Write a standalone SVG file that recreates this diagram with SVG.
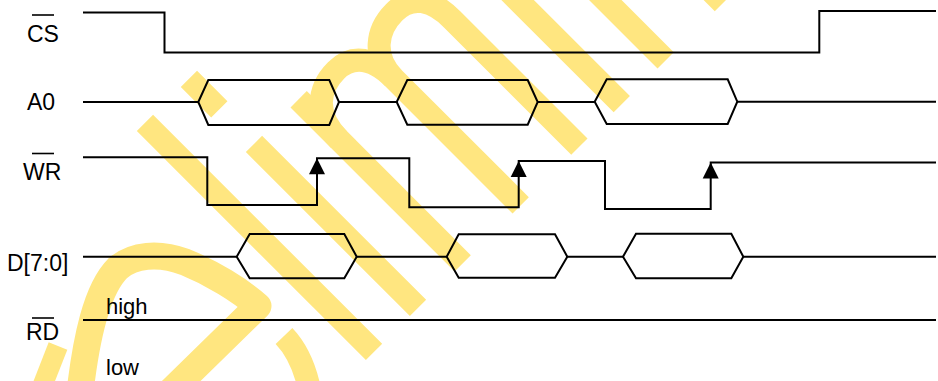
<svg xmlns="http://www.w3.org/2000/svg" xmlns:xlink="http://www.w3.org/1999/xlink" width="938" height="381" viewBox="0 0 938 381">
<style>
.wm{fill:none;stroke:#FFE680;stroke-width:23;stroke-linecap:butt;stroke-linejoin:round}
.sig{fill:none;stroke:#000;stroke-width:2;stroke-linejoin:miter}
.ov{stroke:#000;stroke-width:1.6}
.lbl{font-family:"Liberation Sans",Arial,sans-serif;font-size:23px;fill:#000}
.sm{font-size:22px}
</style>
<defs>
<path id="arrow" d="M0,0 L-8,16 L8,16 Z" fill="#000"/>
</defs>
<rect width="938" height="381" fill="#fff"/>
<g id="watermark">
<g transform="translate(363 363) rotate(-45)">
<path class="wm" d="M15.6,0 V-324"/>
<path class="wm" d="M77.8,0 V-232 M77.8,-281 V-324"/>
<path class="wm" d="M141,0 V-232"/>
<path class="wm" d="M141,-175 C141,-210 162,-226 188,-226 C212,-226 223,-208 223,-180 V0"/>
<path class="wm" d="M223,-180 C223,-210 245,-226 270,-226 C295,-226 306,-208 306,-180 V0"/>
<path class="wm" d="M366,0 V-324 M428,0 V-324 M509,0 V-324"/>
</g>
<path class="wm" style="stroke-width:27" d="M80,392 C86,340 96,290 118,268 C133,255 158,252 185,262 C212,273 240,290 258,306 L170,392"/>
<path class="wm" d="M284,336 Q303,356 310,392"/>
<path class="wm" style="stroke-width:20" d="M40,392 L58,346"/>
</g>
<g id="sig-cs">
<text class="lbl" x="27" y="42">CS</text>
<line class="ov" x1="32" y1="15" x2="54" y2="15"/>
<polyline class="sig" points="83,12.5 164.5,12.5 164.5,52.5 819.3,52.5 819.3,11 936,11"/>
</g>
<g id="sig-a0">
<text class="lbl" x="27" y="110">A0</text>
<polyline class="sig" points="83,102 198.3,102"/>
<polygon class="sig" points="198.3,102 208.3,80 329.3,80 339,102 329.3,125 208.3,125"/>
<polyline class="sig" points="339,102 396.7,102"/>
<polygon class="sig" points="396.7,102 407.3,80 527.7,80 537.7,102 527.7,124.7 407.3,124.7"/>
<polyline class="sig" points="537.7,102 594.7,102"/>
<polygon class="sig" points="594.7,101.7 606.7,79.3 727.7,79.3 737.3,101.7 727.7,124 606.7,124"/>
<polyline class="sig" points="737.3,101.7 936,101.7"/>
</g>
<g id="sig-wr">
<text class="lbl" x="23" y="180">WR</text>
<line class="ov" x1="32" y1="153.5" x2="54" y2="153.5"/>
<polyline class="sig" points="83,157.3 207.3,157.3 207.3,205 317,205 317,158.3 409.3,158.3 409.3,207.3 518.7,207.3 518.7,161 605,161 605,209 710.7,209 710.7,162.5 936,162.5"/>
</g>
<g id="sig-d">
<text class="lbl" x="7" y="271">D[7:0]</text>
<polyline class="sig" points="83,256.7 236.7,256.7"/>
<polygon class="sig" points="236.7,256.7 249.7,234 344.3,234 356.7,256.7 344.3,278.3 249.7,278.3"/>
<polyline class="sig" points="356.7,256.7 446.7,256.7"/>
<polygon class="sig" points="446.7,256.7 458.7,234.3 555,234.3 567.3,256.7 555,277.7 458.7,277.7"/>
<polyline class="sig" points="567.3,256.7 623,256.7"/>
<polygon class="sig" points="623,256.7 636,233.7 731.3,233.7 743.3,256.7 731.3,278.3 636,278.3"/>
<polyline class="sig" points="743.3,256.7 936,256.7"/>
</g>
<g id="sig-rd">
<text class="lbl sm" x="106" y="314">high</text>
<text class="lbl" x="26" y="340">RD</text>
<line class="ov" x1="32" y1="318" x2="54" y2="318"/>
<text class="lbl sm" x="106" y="375">low</text>
<polyline class="sig" points="83,320 936,320"/>
</g>
<g id="connectors">
<use xlink:href="#arrow" x="317" y="158.3"/>
<use xlink:href="#arrow" x="518.7" y="161"/>
<use xlink:href="#arrow" x="710.7" y="162.5"/>
</g>
</svg>
